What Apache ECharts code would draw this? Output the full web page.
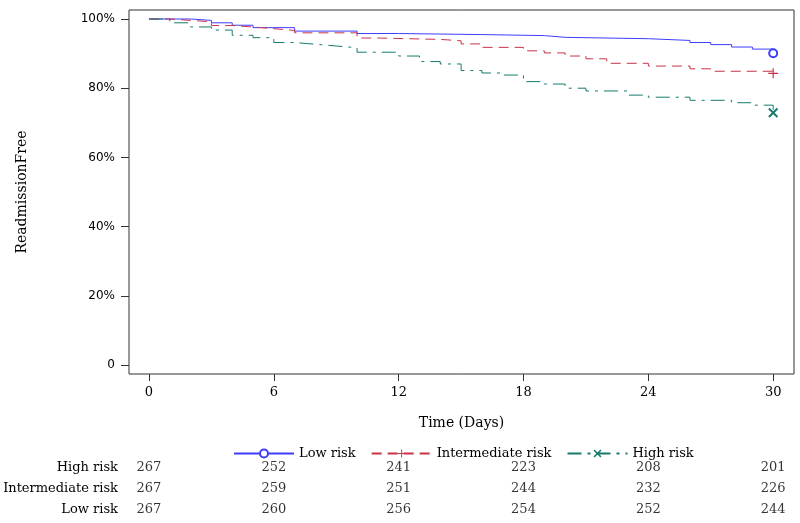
<!DOCTYPE html>
<html>
<head>
<meta charset="utf-8">
<script src="https://cdn.jsdelivr.net/npm/echarts@6/dist/echarts.min.js"></script>
<style>html,body{margin:0;padding:0;background:#fff}#c{width:800px;height:523px}</style>
</head>
<body>
<div id="c"></div>
<script>
// Kaplan-Meier step data (day, survival proportion)
var lowTimes = [0, 2, 3, 4, 5, 7, 10, 12, 16, 19, 20, 24, 26, 27, 28, 29, 30];
var lowSurv  = [1.0, 0.996, 0.989, 0.982, 0.975, 0.965, 0.958, 0.955, 0.952, 0.947, 0.943, 0.938, 0.932, 0.926, 0.919, 0.913, 0.901];

var interTimes = [0, 1, 2, 3, 4, 5, 6, 7, 10, 11, 14, 15, 16, 18, 19, 20, 21, 22, 24, 26, 27, 30];
var interSurv  = [1.0, 0.996, 0.992, 0.981, 0.977, 0.972, 0.967, 0.960, 0.945, 0.941, 0.937, 0.928, 0.918, 0.908, 0.902, 0.893, 0.885, 0.872, 0.864, 0.856, 0.849, 0.843];

var highTimes = [0, 1, 2, 3, 4, 5, 6, 7, 8, 9, 10, 12, 13, 14, 15, 16, 17, 18, 19, 20, 21, 23, 24, 26, 28, 29, 30];
var highSurv  = [1.0, 0.989, 0.977, 0.968, 0.953, 0.946, 0.932, 0.927, 0.922, 0.917, 0.904, 0.893, 0.877, 0.870, 0.851, 0.844, 0.838, 0.819, 0.812, 0.800, 0.792, 0.780, 0.774, 0.765, 0.758, 0.751, 0.729];

// Number at risk table
var atRiskDays = [0, 6, 12, 18, 24, 30];
var highAtRisk = [267, 252, 241, 223, 208, 201];
var interAtRisk = [267, 259, 251, 244, 232, 226];
var lowAtRisk = [267, 260, 256, 254, 252, 244];

var groupNames = ['Low risk', 'Intermediate risk', 'High risk'];
var xTicks = [0, 6, 12, 18, 24, 30];
var yTicks = [0, 0.2, 0.4, 0.6, 0.8, 1.0];

// axis extents (frame padding around the data range)
var xMin = -0.96, xMax = 31.0;
var yMin = -0.026, yMax = 1.026;

var SERIF = '"DejaVu Serif", serif';
var colBlue = '#3d3dff', colRed = '#c8324a', colGreen = '#167a6c';

function stepData(times, surv) {
  return times.map(function (t, i) {
    var item = { value: [t, surv[i]] };
    if (i < times.length - 1) item.symbol = 'none';
    return item;
  });
}
function riskData(days, counts, row) {
  return days.map(function (d, i) { return [d, row, counts[i]]; });
}

var plusPath = 'path://M4.4,0h1.2v4.4h4.4v1.2h-4.4v4.4h-1.2v-4.4h-4.4v-1.2h4.4z';
var xPath = 'path://M1.4,0L5,3.6L8.6,0L10,1.4L6.4,5L10,8.6L8.6,10L5,6.4L1.4,10L0,8.6L3.6,5L0,1.4z';

var chart = echarts.init(document.getElementById('c'), null, { renderer: 'canvas' });
var riskLabel = {
  show: true, position: 'inside', color: '#000', fontFamily: SERIF, fontSize: 13,
  formatter: function (p) { return String(p.value[2]); }
};
chart.setOption({
  animation: false,
  textStyle: { fontFamily: SERIF },
  grid: [
    { left: 129, right: 6, top: 10, bottom: 149, show: true, borderColor: '#333', borderWidth: 1, backgroundColor: 'transparent' },
    { left: 129, right: 6, top: 457, bottom: 3 }
  ],
  legend: {
    data: groupNames, left: 228, top: 442, itemWidth: 60, itemHeight: 10, itemGap: 15,
    textStyle: { fontFamily: SERIF, fontSize: 13, color: '#000' }
  },
  xAxis: [
    { gridIndex: 0, type: 'value', min: xMin, max: xMax,
      axisLine: { show: false, onZero: false },
      axisTick: { show: true, length: 7, customValues: xTicks, lineStyle: { color: '#333' } },
      splitLine: { show: false },
      axisLabel: { margin: 12, color: '#000', fontFamily: SERIF, fontSize: 13, customValues: xTicks },
      name: 'Time (Days)', nameLocation: 'middle', nameGap: 42,
      nameTextStyle: { fontFamily: SERIF, fontSize: 14, color: '#000' } },
    { gridIndex: 1, type: 'value', min: xMin, max: xMax, show: false }
  ],
  yAxis: [
    { gridIndex: 0, type: 'value', min: yMin, max: yMax,
      axisLine: { show: false, onZero: false },
      axisTick: { show: true, length: 8, customValues: yTicks, lineStyle: { color: '#333' } },
      splitLine: { show: false },
      axisLabel: { margin: 14, color: '#000', fontFamily: '"DejaVu Sans", sans-serif', fontSize: 12,
        customValues: yTicks,
        formatter: function (v) { return v === 0 ? '0' : Math.round(v * 100) + '%'; } },
      name: 'ReadmissionFree', nameLocation: 'middle', nameGap: 100, nameRotate: 90,
      nameTextStyle: { fontFamily: SERIF, fontSize: 14, color: '#000' } },
    { gridIndex: 1, type: 'category', data: groupNames,
      axisLine: { show: false }, axisTick: { show: false }, splitLine: { show: false },
      axisLabel: { margin: 11, color: '#000', fontFamily: SERIF, fontSize: 13 } }
  ],
  series: [
    { name: 'Low risk', type: 'line', step: 'end', xAxisIndex: 0, yAxisIndex: 0,
      data: stepData(lowTimes, lowSurv), symbol: 'emptyCircle', symbolSize: 8,
      lineStyle: { color: colBlue, width: 1, type: 'solid' },
      itemStyle: { color: colBlue, borderColor: colBlue, borderWidth: 2 } },
    { name: 'Intermediate risk', type: 'line', step: 'end', xAxisIndex: 0, yAxisIndex: 0,
      data: stepData(interTimes, interSurv), symbol: plusPath, symbolSize: 10,
      lineStyle: { color: colRed, width: 1, type: [10, 6] },
      itemStyle: { color: colRed } },
    { name: 'High risk', type: 'line', step: 'end', xAxisIndex: 0, yAxisIndex: 0,
      data: stepData(highTimes, highSurv), symbol: xPath, symbolSize: 10,
      lineStyle: { color: colGreen, width: 1, type: [14, 6, 3, 6] },
      itemStyle: { color: colGreen } },
    { name: 'riskHigh', type: 'scatter', xAxisIndex: 1, yAxisIndex: 1, symbolSize: 1,
      itemStyle: { color: 'transparent' }, label: riskLabel,
      data: riskData(atRiskDays, highAtRisk, 'High risk') },
    { name: 'riskInter', type: 'scatter', xAxisIndex: 1, yAxisIndex: 1, symbolSize: 1,
      itemStyle: { color: 'transparent' }, label: riskLabel,
      data: riskData(atRiskDays, interAtRisk, 'Intermediate risk') },
    { name: 'riskLow', type: 'scatter', xAxisIndex: 1, yAxisIndex: 1, symbolSize: 1,
      itemStyle: { color: 'transparent' }, label: riskLabel,
      data: riskData(atRiskDays, lowAtRisk, 'Low risk') }
  ]
});
</script>
</body>
</html>
